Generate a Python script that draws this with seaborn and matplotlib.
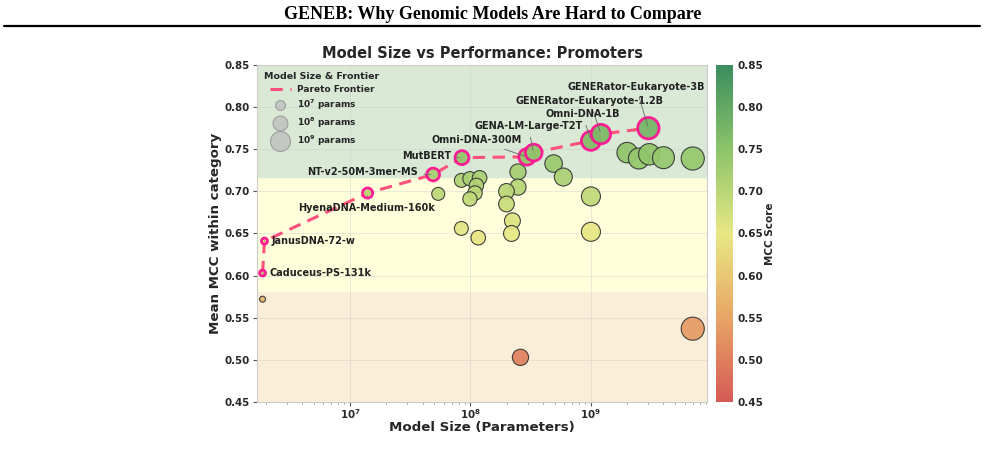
import matplotlib
matplotlib.use('Agg')
import matplotlib.pyplot as plt
import numpy as np
import pandas as pd
import seaborn as sns
from matplotlib.colors import LinearSegmentedColormap, Normalize
from matplotlib.lines import Line2D

# Pareto-frontier models (in frontier order)
pareto_names = ['Caduceus-PS-131k', 'JanusDNA-72-w', 'HyenaDNA-Medium-160k', 'NT-v2-50M-3mer-MS',
                'MutBERT', 'Omni-DNA-300M', 'GENA-LM-Large-T2T', 'Omni-DNA-1B',
                'GENERator-Eukaryote-1.2B', 'GENERator-Eukaryote-3B']
pareto_params = [1.88e6, 1.95e6, 1.4e7, 4.9e7, 8.5e7, 2.95e8, 3.35e8, 1.0e9, 1.21e9, 3.0e9]
pareto_mcc = [0.603, 0.641, 0.698, 0.720, 0.740, 0.741, 0.746, 0.760, 0.768, 0.775]

# all other models
other_params = [1.88e6, 5.4e7, 8.4e7, 9.9e7, 1.19e8, 1.12e8, 1.09e8, 9.9e7, 8.4e7, 1.16e8,
                2.48e8, 2.48e8, 1.99e8, 1.99e8, 2.23e8, 2.19e8, 4.9e8, 5.9e8, 1.0e9, 1.0e9,
                2.0e9, 2.5e9, 3.05e9, 4.0e9, 7.0e9, 7.0e9, 2.6e8]
other_mcc = [0.572, 0.697, 0.713, 0.715, 0.716, 0.707, 0.698, 0.691, 0.656, 0.645,
             0.723, 0.705, 0.700, 0.685, 0.665, 0.650, 0.733, 0.717, 0.694, 0.652,
             0.746, 0.739, 0.744, 0.740, 0.739, 0.537, 0.503]

band_edges = [0.45, 0.582, 0.717, 0.85]
legend_sizes = [1e7, 1e8, 1e9]
legend_labels = ['10$^7$ params', '10$^8$ params', '10$^9$ params']

# label offsets in points: (dx, dy, ha)
label_pos = {
    'Caduceus-PS-131k': (5, 0, 'left'),
    'JanusDNA-72-w': (5, 0, 'left'),
    'HyenaDNA-Medium-160k': (-1, -11, 'center'),
    'NT-v2-50M-3mer-MS': (-11, 2, 'right'),
    'MutBERT': (-8, 1, 'right'),
    'Omni-DNA-300M': (-36, 12, 'center'),
    'GENA-LM-Large-T2T': (-4, 19, 'center'),
    'Omni-DNA-1B': (-6, 19, 'center'),
    'GENERator-Eukaryote-1.2B': (-8, 24, 'center'),
    'GENERator-Eukaryote-3B': (-9, 30, 'center'),
}

def marker_area(p):
    r = 3 + (np.log10(p) - 6.28) * 2.4  # radius in pixels
    return (1.44 * r) ** 2

cmap = LinearSegmentedColormap.from_list('mcc', [
    (0.0, '#d65a55'), (0.25, '#e8a565'), (0.5, '#e8e884'),
    (0.75, '#8cc46a'), (1.0, '#3b8d5e')])
norm = Normalize(0.45, 0.85)

df_o = pd.DataFrame({'params': other_params, 'mcc': other_mcc})
df_o['area'] = marker_area(df_o['params'])
df_p = pd.DataFrame({'name': pareto_names, 'params': pareto_params, 'mcc': pareto_mcc})
df_p['area'] = marker_area(df_p['params'])

sns.set_style('white')
plt.rcParams['font.family'] = ['DejaVu Sans']
plt.rcParams['mathtext.default'] = 'bf'

fig = plt.figure(figsize=(9.85, 4.5), dpi=100)
ax = fig.add_axes([0.2609, 0.1067, 0.4569, 0.7489])
cax = fig.add_axes([0.7269, 0.1067, 0.0173, 0.7489])

band_colors = ['#fbeed8', '#ffffdc', '#d9e9d6']
for lo, hi, c in zip(band_edges[:-1], band_edges[1:], band_colors):
    ax.axhspan(lo, hi, color=c, zorder=0)

amin = min(df_o['area'].min(), df_p['area'].min())
amax = max(df_o['area'].max(), df_p['area'].max())

sns.scatterplot(data=df_o, x='params', y='mcc', hue='mcc', palette=cmap, hue_norm=norm,
                size='area', sizes=(amin, amax), size_norm=(amin, amax),
                edgecolor='#333333', linewidth=0.8, alpha=0.92, legend=False, ax=ax, zorder=3)

ax.plot(df_p['params'], df_p['mcc'], ls=(0, (4, 2.5)), color='#ff4f7b', lw=2.2, zorder=4)

sns.scatterplot(data=df_p, x='params', y='mcc', hue='mcc', palette=cmap, hue_norm=norm,
                size='area', sizes=(amin, amax), size_norm=(amin, amax),
                edgecolor='#ff1493', linewidth=2.0, alpha=0.95, legend=False, ax=ax, zorder=5)

for _, row in df_p.iterrows():
    dx, dy, ha = label_pos[row['name']]
    ax.annotate(row['name'], (row['params'], row['mcc']), xytext=(dx, dy),
                textcoords='offset points', ha=ha, va='center', fontsize=7.0,
                fontweight='bold', color='#222222', zorder=6,
                arrowprops=dict(arrowstyle='-', color='#666666', lw=0.6))

ax.set_xscale('log')
ax.set_xlim(1.69e6, 9.2e9)
ax.set_ylim(0.45, 0.85)
ax.set_yticks(np.arange(0.45, 0.851, 0.05))
ax.grid(True, which='major', color='#cccccc', alpha=0.5, lw=0.6)
ax.set_axisbelow(True)
for s in ax.spines.values():
    s.set_color('#cccccc')
ax.tick_params(axis='both', which='major', labelsize=7.4, length=3, color='#555555',
               bottom=True, left=True, pad=2)
ax.tick_params(axis='x', which='major', pad=0.5)
ax.tick_params(axis='x', which='minor', length=1.5, color='#888888', bottom=True)
for lab in ax.get_xticklabels() + ax.get_yticklabels():
    lab.set_fontweight('bold')
ax.set_xlabel('Model Size (Parameters)', fontsize=9.6, fontweight='bold', labelpad=0)
ax.set_ylabel('Mean MCC within category', fontsize=9.6, fontweight='bold', labelpad=2)
ax.set_title('Model Size vs Performance: Promoters', fontsize=10.5, fontweight='bold', pad=5)

handles = [Line2D([0], [0], ls=(0, (4, 2.5)), color='#ff4f7b', lw=2.2)]
for p in legend_sizes:
    handles.append(ax.scatter([], [], s=marker_area(p) * 1.1, color='#bbbbbb', edgecolor='#888888',
                              alpha=0.7, linewidth=0.8))
leg = ax.legend(handles, ['Pareto Frontier'] + legend_labels, title='Model Size & Frontier',
                loc='upper left', frameon=False, prop={'size': 6.5, 'weight': 'bold'},
                title_fontproperties={'size': 6.8, 'weight': 'bold'},
                labelspacing=0.4, handlelength=2.4, handletextpad=0.6, borderaxespad=0.4)

sm = plt.cm.ScalarMappable(norm=norm, cmap=cmap)
cb = fig.colorbar(sm, cax=cax)
cb.outline.set_visible(False)
cb.set_ticks(np.arange(0.45, 0.851, 0.05))
cb.ax.tick_params(labelsize=7.5, length=0)
for lab in cb.ax.get_yticklabels():
    lab.set_fontweight('bold')
cb.set_label('MCC Score', fontsize=7.5, fontweight='bold', labelpad=1)

fig.text(0.5, 0.968, 'GENEB: Why Genomic Models Are Hard to Compare', ha='center', va='center',
         fontsize=13, fontweight='bold', color='black', family=['Liberation Serif'])
fig.add_artist(Line2D([0.004, 0.995], [0.942, 0.942], color='black', lw=1.6,
                      transform=fig.transFigure))

fig.savefig('out.png', dpi=100)
